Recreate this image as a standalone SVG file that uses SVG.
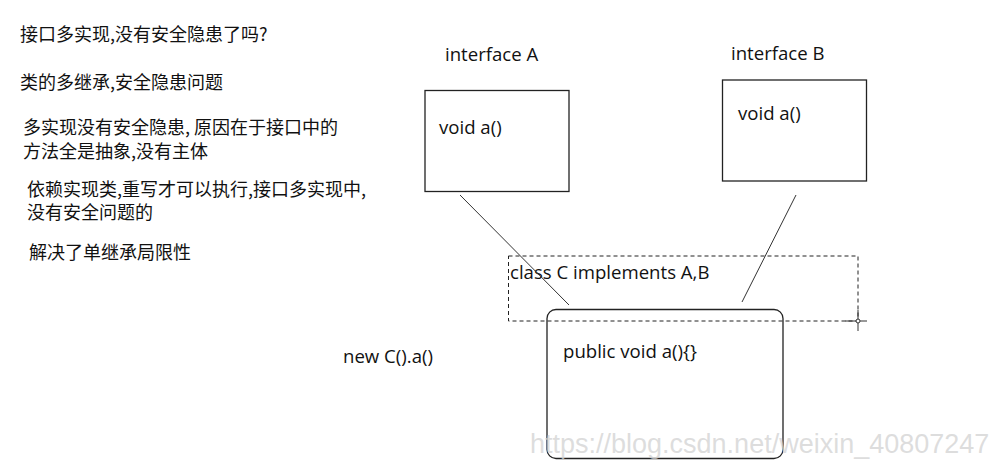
<svg xmlns="http://www.w3.org/2000/svg" width="995" height="464" viewBox="0 0 995 464">
<style>
.cn{font-family:"Noto Sans CJK SC","Noto Sans",sans-serif;font-size:18px;fill:#111}
.en{font-family:"Open Sans","Noto Sans",sans-serif;font-size:18.6px;fill:#111}
.box{fill:none;stroke:#222;stroke-width:1.3}
.ln{fill:none;stroke:#333;stroke-width:1}
.wm{font-family:"Liberation Sans",Arial,sans-serif;font-size:27px;fill:#d2d2d2;fill-opacity:0.75}
</style>
<rect width="995" height="464" fill="#fff"/>
<g id="notes">
<text class="cn" x="20" y="41">接口多实现,没有安全隐患了吗?</text>
<text class="cn" x="20" y="89">类的多继承,安全隐患问题</text>
<text class="cn" x="23" y="134">多实现没有安全隐患, 原因在于接口中的</text>
<text class="cn" x="23" y="158">方法全是抽象,没有主体</text>
<text class="cn" x="27" y="196">依赖实现类,重写才可以执行,接口多实现中,</text>
<text class="cn" x="27" y="219">没有安全问题的</text>
<text class="cn" x="29" y="259">解决了单继承局限性</text>
</g>
<g id="interfaceA">
<text class="en" x="445" y="61">interface A</text>
<rect class="box" x="425" y="90.5" width="144" height="101"/>
<text class="en" x="439" y="134">void a()</text>
</g>
<g id="interfaceB">
<text class="en" x="731" y="60">interface B</text>
<rect class="box" x="722.5" y="80" width="144" height="101"/>
<text class="en" x="738" y="120">void a()</text>
</g>
<g id="classC">
<rect x="508.5" y="256" width="349.5" height="65" fill="none" stroke="#222" stroke-width="1" stroke-dasharray="4,3"/>
<text class="en" x="510" y="279">class C implements A,B</text>
<line class="ln" x1="845" y1="321" x2="867" y2="321"/>
<line class="ln" x1="858" y1="310" x2="858" y2="331"/>
<circle cx="858" cy="321" r="2" fill="#fff" stroke="#333" stroke-width="1"/>
</g>
<g id="impl">
<rect class="box" x="547" y="309.5" width="236" height="149" rx="9" ry="9"/>
<text class="en" x="563" y="358">public void a(){}</text>
</g>
<g id="call">
<text class="en" x="343" y="363">new C().a()</text>
</g>
<g id="connectors">
<line class="ln" x1="460" y1="195" x2="569" y2="305"/>
<line class="ln" x1="796" y1="195" x2="742" y2="302"/>
</g>
<text class="wm" x="530" y="453">https://blog.csdn.net/weixin_40807247</text>
</svg>
